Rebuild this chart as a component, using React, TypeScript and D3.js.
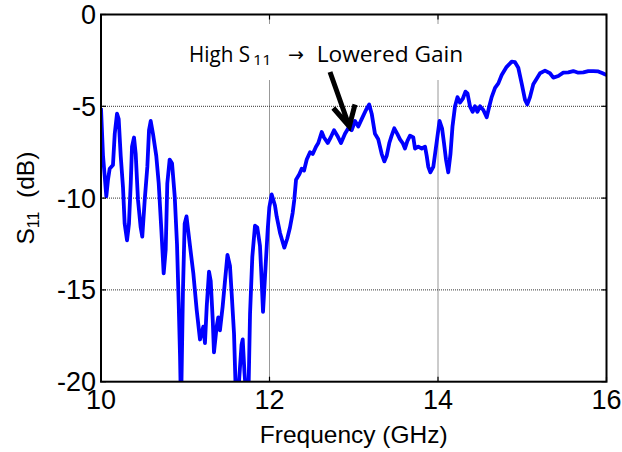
import React from "react";
import * as d3 from "d3";

const freqGHz = [
  10.0, 10.024, 10.044, 10.063, 10.083, 10.103, 10.142, 10.163, 10.19, 10.21,
  10.234, 10.261, 10.281, 10.309, 10.332, 10.353, 10.368, 10.392, 10.412, 10.439,
  10.471, 10.49, 10.519, 10.55, 10.57, 10.59, 10.617, 10.656, 10.685, 10.716,
  10.744, 10.768, 10.787, 10.815, 10.843, 10.875, 10.902, 10.922, 10.938, 10.95,
  10.973, 10.993, 11.015, 11.056, 11.096, 11.136, 11.175, 11.214, 11.234, 11.255,
  11.282, 11.302, 11.326, 11.341, 11.373, 11.392, 11.412, 11.444, 11.472, 11.501,
  11.531, 11.551, 11.579, 11.602, 11.626, 11.668, 11.682, 11.703, 11.727, 11.751,
  11.769, 11.796, 11.828, 11.855, 11.887, 11.907, 11.923, 11.955, 11.979, 11.998,
  12.026, 12.065, 12.085, 12.125, 12.176, 12.211, 12.243, 12.275, 12.294, 12.315,
  12.354, 12.382, 12.41, 12.442, 12.481, 12.513, 12.552, 12.579, 12.62, 12.647,
  12.691, 12.726, 12.766, 12.805, 12.849, 12.896, 12.935, 12.976, 13.015, 13.054,
  13.094, 13.145, 13.183, 13.213, 13.252, 13.291, 13.332, 13.363, 13.391, 13.422,
  13.45, 13.481, 13.517, 13.549, 13.581, 13.608, 13.636, 13.668, 13.707, 13.727,
  13.766, 13.807, 13.846, 13.866, 13.885, 13.909, 13.944, 13.98, 14.018, 14.048,
  14.071, 14.095, 14.122, 14.148, 14.172, 14.202, 14.231, 14.261, 14.293, 14.326,
  14.35, 14.38, 14.412, 14.439, 14.467, 14.499, 14.538, 14.578, 14.609, 14.637,
  14.677, 14.716, 14.756, 14.815, 14.875, 14.914, 14.953, 14.993, 15.033, 15.06,
  15.092, 15.131, 15.171, 15.211, 15.27, 15.329, 15.369, 15.428, 15.487, 15.547,
  15.606, 15.665, 15.725, 15.784, 15.843, 15.903, 15.955, 16.0,
];

const s11dB = [
  -5.1, -7.7, -8.8, -9.9, -9.0, -8.4, -8.2, -6.5, -5.4, -5.7,
  -7.7, -9.4, -11.4, -12.3, -11.4, -9.2, -7.2, -6.7, -7.6, -10.1,
  -11.6, -12.1, -10.1, -8.3, -6.3, -5.8, -6.5, -7.7, -9.2, -11.7,
  -14.1, -12.8, -9.2, -7.9, -8.1, -9.9, -12.5, -15.7, -18.6, -21.5,
  -15.0, -11.4, -11.0, -12.6, -14.1, -16.1, -17.7, -17.0, -17.9, -15.9,
  -14.0, -14.5, -16.6, -18.4, -17.0, -16.5, -17.2, -15.9, -14.5, -13.1,
  -13.7, -15.2, -17.4, -21.0, -20.8, -18.0, -17.7, -19.5, -21.0, -20.5,
  -16.3, -13.2, -11.5, -11.6, -12.6, -14.5, -16.2, -13.6, -11.7, -10.5,
  -9.8, -10.4, -11.0, -11.9, -12.7, -12.2, -11.6, -10.8, -10.1, -9.0,
  -8.7, -8.4, -8.5, -7.9, -7.5, -7.6, -7.2, -7.0, -6.4, -6.7,
  -7.0, -6.7, -6.3, -6.6, -7.0, -6.5, -6.2, -6.3, -5.8, -6.1,
  -5.7, -5.2, -4.9, -5.4, -6.5, -6.8, -7.6, -8.0, -7.7, -7.0,
  -6.6, -6.2, -6.5, -6.8, -7.0, -7.3, -6.9, -6.6, -6.7, -7.3,
  -7.2, -7.3, -7.2, -7.7, -8.3, -8.6, -8.3, -7.1, -5.8, -6.2,
  -7.0, -7.9, -8.6, -7.6, -6.1, -5.0, -4.5, -4.8, -4.6, -4.2,
  -4.3, -5.0, -5.3, -5.0, -5.3, -5.0, -5.2, -5.6, -5.0, -4.5,
  -4.0, -3.75, -3.3, -2.85, -2.57, -2.6, -2.9, -3.75, -4.65, -4.9,
  -4.5, -3.8, -3.5, -3.2, -3.06, -3.2, -3.44, -3.35, -3.17, -3.15,
  -3.08, -3.17, -3.15, -3.08, -3.08, -3.1, -3.2, -3.3,
];

const xTicks = [10, 12, 14, 16];
const yTicks = [0, -5, -10, -15, -20];
const xLabel = "Frequency (GHz)";
const annotationParts = ["High S", "11", "→", "Lowered Gain"];

const W = 622;
const H = 452;
const L = 101;
const R = 606.5;
const T = 14.5;
const B = 381.7;

export default function App() {
  const x = d3.scaleLinear().domain([10, 16]).range([L, R]);
  const y = d3.scaleLinear().domain([-20, 0]).range([B, T]);
  const pts = freqGHz.map((f, i) => [f, s11dB[i]] as [number, number]);
  const line = d3
    .line<[number, number]>()
    .x((d) => x(d[0]))
    .y((d) => y(d[1]))
    .curve(d3.curveLinear);
  const tickFont = "'Liberation Sans', Arial, Helvetica, sans-serif";
  const annFont = "'Open Sans', sans-serif";
  const tl = 5;

  return (
    <svg
      width={W}
      height={H}
      viewBox={`0 0 ${W} ${H}`}
      style={{ position: "absolute", left: 0, top: 0, background: "#fff" }}
    >
      <defs>
        <clipPath id="plotclip">
          <rect x={L} y={T} width={R - L} height={B - T} />
        </clipPath>
      </defs>
      <rect x={0} y={0} width={W} height={H} fill="#fff" />
      {/* grid */}
      {xTicks
        .filter((t) => t !== 10 && t !== 16)
        .map((t) => (
          <line
            key={"gx" + t}
            x1={x(t)}
            x2={x(t)}
            y1={T}
            y2={B}
            stroke="#333"
            strokeWidth={1}
            strokeDasharray="1 1"
          />
        ))}
      {yTicks
        .filter((t) => t !== 0 && t !== -20)
        .map((t) => (
          <line
            key={"gy" + t}
            x1={L}
            x2={R}
            y1={y(t)}
            y2={y(t)}
            stroke="#333"
            strokeWidth={1}
            strokeDasharray="1 1"
          />
        ))}
      {/* data */}
      <path
        d={line(pts) || ""}
        fill="none"
        stroke="#0000ff"
        strokeWidth={3.8}
        strokeLinejoin="round"
        clipPath="url(#plotclip)"
      />
      {/* ticks */}
      {xTicks.map((t) => (
        <g key={"tx" + t}>
          <line x1={x(t)} x2={x(t)} y1={B} y2={B - tl} stroke="#000" strokeWidth={1.2} />
          <line x1={x(t)} x2={x(t)} y1={T} y2={T + tl} stroke="#000" strokeWidth={1.2} />
          <text
            x={x(t)}
            y={409}
            textAnchor="middle"
            fontFamily={tickFont}
            fontSize={27}
            fill="#000"
          >
            {t}
          </text>
        </g>
      ))}
      {yTicks.map((t) => (
        <g key={"ty" + t}>
          <line x1={L} x2={L + tl} y1={y(t)} y2={y(t)} stroke="#000" strokeWidth={1.2} />
          <line x1={R} x2={R - tl} y1={y(t)} y2={y(t)} stroke="#000" strokeWidth={1.2} />
          <text
            x={96}
            y={y(t) + 9.5}
            textAnchor="end"
            fontFamily={tickFont}
            fontSize={27}
            fill="#000"
          >
            {t}
          </text>
        </g>
      ))}
      {/* box */}
      <rect
        x={L}
        y={T}
        width={R - L}
        height={B - T}
        fill="none"
        stroke="#000"
        strokeWidth={2}
      />
      {/* axis labels */}
      <text
        x={(L + R) / 2}
        y={443}
        textAnchor="middle"
        fontFamily={tickFont}
        fontSize={24.5}
        fill="#000"
      >
        {xLabel}
      </text>
      <g transform={`translate(34, ${(T + B) / 2}) rotate(-90)`}>
        <text textAnchor="middle" fontFamily={tickFont} fontSize={24.5} fill="#000">
          <tspan>S</tspan>
          <tspan fontSize={16} dy={5}>11</tspan>
          <tspan dy={-5}>{"\u00a0\u00a0(dB)"}</tspan>
        </text>
      </g>
      {/* annotation */}
      <rect x={183} y={24} width={288} height={56} fill="#fff" />
      <text
        x={189}
        y={62}
        fontFamily={annFont}
        fontSize={21}
        fill="#000"
        textLength={61}
        lengthAdjust="spacingAndGlyphs"
      >
        {annotationParts[0]}
      </text>
      <text
        x={253}
        y={65}
        fontFamily={annFont}
        fontSize={15}
        fill="#000"
        textLength={18.5}
        lengthAdjust="spacingAndGlyphs"
      >
        {annotationParts[1]}
      </text>
      <text x={288} y={61} fontFamily="'DejaVu Sans', sans-serif" fontSize={19} fill="#000">
        {annotationParts[2]}
      </text>
      <text
        x={316.7}
        y={62}
        fontFamily={annFont}
        fontSize={21}
        fill="#000"
        textLength={146.6}
        lengthAdjust="spacingAndGlyphs"
      >
        {annotationParts[3]}
      </text>
      <path
        d="M330,72 L349.3,126.5 M333.3,108 L349.3,126.5 L355,104.5"
        fill="none"
        stroke="#000"
        strokeWidth={5}
        strokeLinecap="butt"
        strokeLinejoin="miter"
      />
    </svg>
  );
}
